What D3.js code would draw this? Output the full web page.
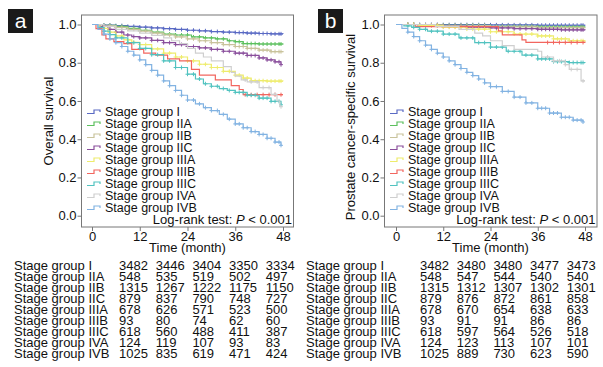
<!DOCTYPE html>
<html>
<head>
<meta charset="utf-8">
<script src="https://cdn.jsdelivr.net/npm/d3@7"></script>
<style>
  html, body { margin: 0; padding: 0; background: #fff; }
  svg { display: block; font-family: "Liberation Sans", Arial, sans-serif; }
</style>
</head>
<body>
<svg id="chart" width="603" height="367"></svg>
<script>
// ---- data ----
const groups = ['Stage group I', 'Stage group IIA', 'Stage group IIB', 'Stage group IIC',
  'Stage group IIIA', 'Stage group IIIB', 'Stage group IIIC', 'Stage group IVA', 'Stage group IVB'];
const colors = ['#5a6ac4', '#5cc05e', '#c9c39c', '#8a4f9c', '#eeec6c', '#f2665f', '#52c3c0', '#cfcfcf', '#82b3e2'];
const timeTicks = [0, 12, 24, 36, 48];
const survTicks = [0, 0.2, 0.4, 0.6, 0.8, 1.0];

// overall survival, [month, survival] steps
const osI    = [[0,1],[3,0.997],[6,0.994],[9,0.99],[12,0.986],[15,0.982],[18,0.978],[21,0.974],[24,0.97],[27,0.967],[30,0.963],[33,0.96],[36,0.958],[39,0.955],[42,0.953],[45,0.951],[48,0.95]];
const osIIA  = [[0,1],[3,0.995],[6,0.99],[9,0.98],[12,0.97],[15,0.96],[18,0.95],[21,0.945],[25,0.935],[28,0.93],[31,0.925],[34,0.915],[36,0.91],[38,0.9],[42,0.898],[48,0.896]];
const osIIB  = [[0,1],[3,0.993],[6,0.985],[9,0.975],[12,0.965],[15,0.955],[18,0.945],[21,0.935],[24,0.925],[27,0.915],[30,0.905],[33,0.895],[36,0.885],[39,0.875],[42,0.866],[45,0.858],[48,0.855]];
const osIIC  = [[0,1],[2,0.99],[4,0.975],[6,0.96],[8,0.945],[10,0.937],[12,0.93],[15,0.917],[18,0.905],[21,0.895],[24,0.885],[27,0.878],[30,0.87],[33,0.86],[36,0.85],[39,0.838],[42,0.825],[44,0.815],[46,0.805],[47.5,0.79]];
const osIIIA = [[0,1],[2,0.98],[4,0.96],[6,0.94],[8,0.92],[10,0.907],[12,0.895],[15,0.872],[18,0.85],[21,0.83],[24,0.81],[27,0.792],[30,0.775],[33,0.755],[36,0.735],[38,0.72],[40,0.706],[44,0.704],[48,0.703]];
const osIIIB = [[0,1],[1,0.978],[2.5,0.946],[3.5,0.925],[5.5,0.91],[8,0.9],[10,0.87],[13,0.85],[16,0.84],[19,0.82],[22,0.81],[25,0.765],[27,0.735],[31,0.71],[35,0.68],[37,0.66],[38,0.633],[48,0.633]];
const osIIIC = [[0,1],[1.5,0.985],[3,0.965],[4.5,0.947],[6,0.93],[9,0.905],[12,0.875],[15,0.842],[18,0.81],[21,0.775],[24,0.74],[26,0.715],[28,0.69],[30,0.677],[32,0.665],[34,0.655],[36,0.645],[39,0.63],[42,0.615],[45,0.598],[47.5,0.58]];
const osIVA  = [[0,1],[3,0.99],[6,0.975],[9,0.967],[12,0.955],[15,0.943],[18,0.93],[20,0.915],[22,0.9],[24,0.875],[26,0.85],[28,0.83],[30,0.81],[33,0.78],[35,0.75],[36,0.73],[37.5,0.71],[39,0.7],[42,0.67],[45,0.635],[46.5,0.6],[47.2,0.57]];
const osIVB  = [[0,1],[1.5,0.975],[3,0.95],[4.5,0.925],[6,0.905],[7.5,0.885],[9,0.86],[10.5,0.84],[12,0.815],[13.5,0.79],[15,0.76],[16.5,0.735],[18,0.705],[19.5,0.68],[21,0.655],[22.5,0.63],[24,0.605],[26,0.585],[28,0.565],[30,0.55],[32,0.53],[34,0.505],[36,0.48],[38,0.46],[40,0.44],[42,0.425],[44,0.405],[46,0.385],[47.5,0.368]];

// prostate cancer-specific survival
const csI    = [[0,1],[12,0.999],[24,0.998],[36,0.996],[48,0.995]];
const csIIA  = [[0,1],[6,0.997],[12,0.995],[24,0.99],[36,0.987],[48,0.985]];
const csIIB  = [[0,1],[6,0.997],[12,0.994],[24,0.988],[36,0.983],[48,0.98]];
const csIIC  = [[0,1],[6,0.995],[12,0.99],[18,0.986],[24,0.982],[30,0.978],[36,0.975],[42,0.972],[48,0.97]];
const csIIIA = [[0,1],[6,0.995],[12,0.986],[18,0.976],[24,0.962],[30,0.95],[36,0.94],[40,0.925],[44,0.915],[48,0.91]];
const csIIIB = [[0,1],[5,0.989],[26,0.967],[27,0.946],[32,0.92],[33,0.906],[48,0.905]];
const csIIIC = [[0,1],[2,0.993],[4,0.985],[6,0.975],[8,0.965],[12,0.95],[16,0.93],[20,0.905],[24,0.882],[28,0.86],[32,0.84],[36,0.82],[40,0.806],[44,0.801],[48,0.8]];
const csIVA  = [[0,1],[10,0.99],[16,0.975],[20,0.955],[22,0.94],[24,0.915],[27,0.89],[30,0.87],[36,0.86],[37,0.83],[40,0.81],[43,0.79],[44,0.765],[47,0.705],[48,0.705]];
const csIVB  = [[0,1],[1.5,0.98],[3,0.96],[4.5,0.937],[6,0.915],[7.5,0.892],[9,0.87],[10.5,0.85],[12,0.83],[13.5,0.81],[15,0.79],[16.5,0.77],[18,0.75],[19.5,0.733],[21,0.715],[22.5,0.695],[24,0.675],[27,0.65],[30,0.62],[33,0.59],[36,0.562],[39,0.537],[42,0.515],[45,0.5],[47.5,0.49]];

// censoring times drawn as "+"
const censorDense  = [3,4.5,6,7.5,9,10.5,12,13.5,15,16.5,18,19.5,21,22.5,24,25.5,27,28.5,30,31.5,33,34.5,36,37,38,39,40,41,42,43,44,45,46,47,47.5];
const censorSparse = [38.5,40,41.5,43,44.5,46,47.5];

// numbers at risk
const riskOS = [
  [3482, 3446, 3404, 3350, 3334],
  [548, 535, 519, 502, 497],
  [1315, 1267, 1222, 1175, 1150],
  [879, 837, 790, 748, 727],
  [678, 626, 571, 523, 500],
  [93, 80, 74, 62, 60],
  [618, 560, 488, 411, 387],
  [124, 119, 107, 93, 83],
  [1025, 835, 619, 471, 424]
];
const riskCS = [
  [3482, 3480, 3480, 3477, 3473],
  [548, 547, 544, 540, 540],
  [1315, 1312, 1307, 1302, 1301],
  [879, 876, 872, 861, 858],
  [678, 670, 654, 638, 633],
  [93, 91, 91, 86, 86],
  [618, 597, 564, 526, 518],
  [124, 123, 113, 107, 101],
  [1025, 889, 730, 623, 590]
];

const panels = [
  { letter: 'a', yTitle: 'Overall survival', curves: [osI, osIIA, osIIB, osIIC, osIIIA, osIIIB, osIIIC, osIVA, osIVB], risk: riskOS,
    left: 81.5, right: 293.5, x0: 92, x1: 283, letterX: 8, yTitleX: 48, yTitleY: 121, tableX: 14, colX: 119 },
  { letter: 'b', yTitle: 'Prostate cancer-specific survival', curves: [csI, csIIA, csIIB, csIIC, csIIIA, csIIIB, csIIIC, csIVA, csIVB], risk: riskCS,
    left: 384.5, right: 597, x0: 396, x1: 585, letterX: 318, yTitleX: 350, yTitleY: 127, tableX: 306, colX: 420 }
];

const svg = d3.select('#chart');
const frameTop = 15, frameBottom = 227;

function survAt(curve, t) {
  let v = curve[0][1];
  for (const p of curve) { if (p[0] <= t) v = p[1]; }
  return v;
}

panels.forEach(p => {
  const g = svg.append('g');

  let x = d3.scaleLinear().domain([0, 48]).range([p.x0, p.x1]);
  let y = d3.scaleLinear().domain([0, 1]).range([215.7, 24.5]);

  // panel letter
  g.append('rect').attr('x', p.letterX).attr('y', 9).attr('width', 25).attr('height', 24).attr('fill', '#1a1a1a');
  g.append('text').attr('x', p.letterX + 12.5).attr('y', 28).attr('text-anchor', 'middle')
    .attr('fill', '#fff').style('font-size', '21px').text(p.letter);

  // frame
  g.append('rect').attr('x', p.left).attr('y', frameTop).attr('width', p.right - p.left).attr('height', frameBottom - frameTop)
    .attr('fill', 'none').attr('stroke', '#777').attr('stroke-width', 1);

  let yAxis = g.append('g')
    .attr('transform', `translate(${p.left},0)`)
    .call(d3.axisLeft(y).tickValues(survTicks).tickFormat(d3.format('.1f')).tickSize(4).tickPadding(1));
  let xAxis = g.append('g')
    .attr('transform', `translate(0,${frameBottom})`)
    .call(d3.axisBottom(x).tickValues(timeTicks).tickSize(4).tickPadding(1));
  [xAxis, yAxis].forEach(a => {
    a.select('.domain').remove();
    a.selectAll('line').attr('stroke', '#777');
    a.selectAll('text').attr('fill', '#111').style('font-size', '13px');
    a.attr('font-family', null);
  });

  g.append('text').attr('x', (p.x0 + p.x1) / 2).attr('y', 251.5).attr('text-anchor', 'middle')
    .style('font-size', '13px').attr('fill', '#111').text('Time (month)');
  g.append('text').attr('transform', `translate(${p.yTitleX},${p.yTitleY}) rotate(-90)`)
    .attr('text-anchor', 'middle').attr('dy', '0.35em').style('font-size', '13px').attr('fill', '#111').text(p.yTitle);

  // curves
  let line = d3.line().x(d => x(d[0])).y(d => y(d[1])).curve(d3.curveStepAfter);
  p.curves.forEach((c, i) => {
    let cg = g.append('g').attr('stroke', colors[i]).attr('fill', 'none').attr('stroke-width', 1.2);
    cg.append('path').attr('d', line(c));
    let cens = (i === 5 || i === 7) ? censorSparse : censorDense;
    cens.forEach(t => {
      const cx = x(t), cy = y(survAt(c, t));
      cg.append('path').attr('d', `M${cx - 2},${cy}H${cx + 2}M${cx},${cy - 2}V${cy + 2}`).attr('stroke-width', 1);
    });
  });

  // legend
  let lx = p.left + 5.5;
  groups.forEach((name, i) => {
    let ly = 112 + i * 12;
    g.append('path').attr('d', `M${lx},${ly + 1.5}H${lx + 7}V${ly - 2}H${lx + 13}V${ly}`)
      .attr('fill', 'none').attr('stroke', colors[i]).attr('stroke-width', 1.2);
    g.append('text').attr('x', lx + 18).attr('y', ly).attr('dy', '0.35em')
      .style('font-size', '12.5px').attr('fill', '#111').text(name);
  });

  let lr = g.append('text').attr('x', p.right - 1.5).attr('y', 224).attr('text-anchor', 'end')
    .style('font-size', '13px').attr('fill', '#111');
  lr.append('tspan').text('Log-rank test: ');
  lr.append('tspan').style('font-style', 'italic').text('P');
  lr.append('tspan').text(' < 0.001');

  // risk table
  let col = d3.scaleLinear().domain([0, 1]).range([p.colX, p.colX + 36.7]);
  let rows = g.append('g').style('font-size', '13px').attr('fill', '#111');
  groups.forEach((name, i) => {
    let ry = 269.5 + i * 11.05;
    rows.append('text').attr('x', p.tableX).attr('y', ry).text(name);
    p.risk[i].forEach((n, j) => {
      rows.append('text').attr('x', col(j)).attr('y', ry).text(n);
    });
  });
});
</script>
</body>
</html>
